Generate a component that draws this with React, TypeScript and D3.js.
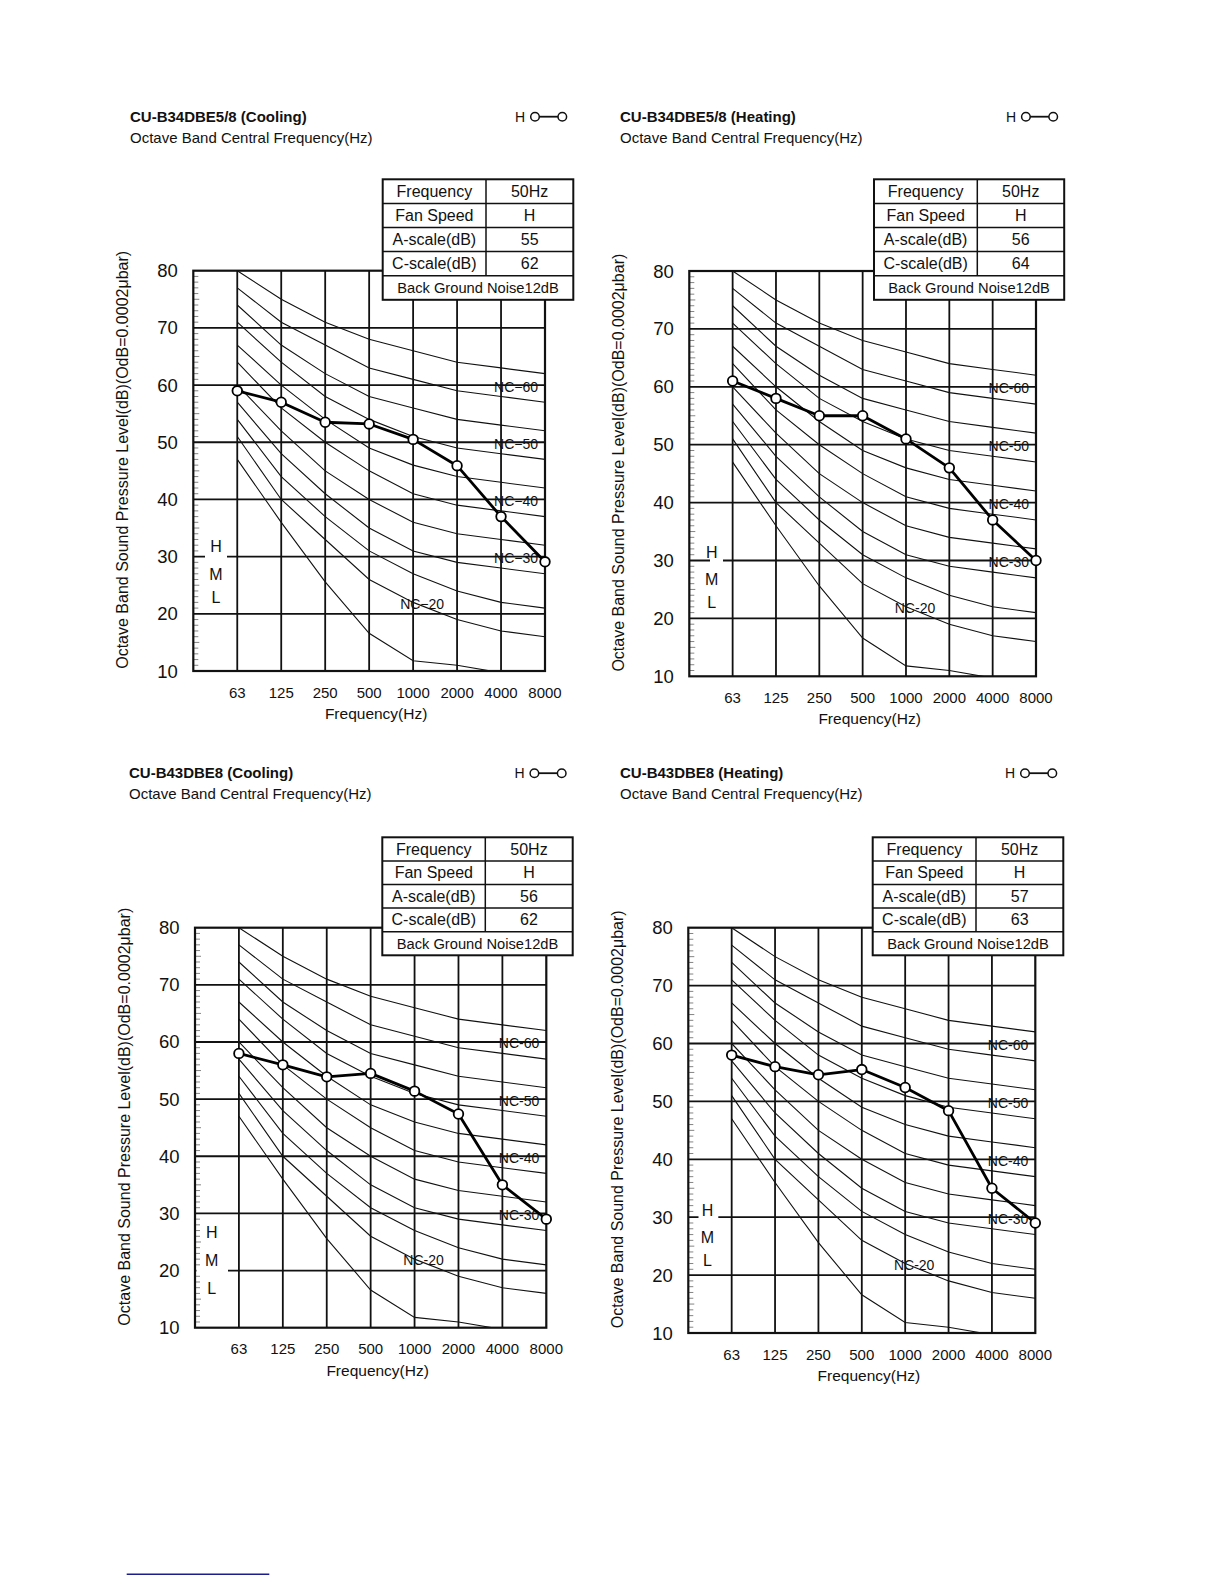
import React from "react";
import * as d3 from "d3";

// ---------- data ----------
const FREQS = ["63", "125", "250", "500", "1000", "2000", "4000", "8000"];
const Y_TICKS = [10, 20, 30, 40, 50, 60, 70, 80];

// NC reference curves (dB at each octave band)
const NC_15 = [47, 36, 25.6, 16.6, 11.8, 11, 9.7, 9];
const NC_20 = [51, 40, 33, 26, 22, 19, 17, 16];
const NC_25 = [54, 44, 37, 31, 27, 24, 22, 21];
const NC_30 = [57, 48, 41, 35, 31, 29, 28, 27];
const NC_35 = [60, 52, 45, 40, 36, 34, 33, 32];
const NC_40 = [64, 56, 50, 45, 41, 39, 38, 37];
const NC_45 = [67, 60, 54, 49, 46, 44, 43, 42];
const NC_50 = [71, 64, 58, 54, 51, 49, 48, 47];
const NC_55 = [74, 67, 62, 58, 56, 54, 53, 52];
const NC_60 = [77, 71, 67, 63, 61, 59, 58, 57];
const NC_65 = [80, 75, 71, 68, 66, 64, 63, 62];
const NC_CURVES = [NC_15, NC_20, NC_25, NC_30, NC_35, NC_40, NC_45, NC_50, NC_55, NC_60, NC_65];

const NC_RIGHT_LABELS = [60, 50, 40, 30];
const NC_LOW_LABEL = 20;

// measured SPL (H fan speed)
const SPL_B34_COOLING = [59.0, 57.0, 53.5, 53.2, 50.5, 45.9, 37.0, 29.1];
const SPL_B34_HEATING = [61.0, 58.0, 55.0, 55.0, 51.0, 46.0, 37.0, 30.0];
const SPL_B43_COOLING = [58.0, 56.0, 53.9, 54.5, 51.4, 47.4, 35.0, 29.0];
const SPL_B43_HEATING = [58.0, 56.0, 54.6, 55.5, 52.4, 48.4, 35.0, 29.0];

const TITLES = [
  "CU-B34DBE5/8 (Cooling)",
  "CU-B34DBE5/8 (Heating)",
  "CU-B43DBE8 (Cooling)",
  "CU-B43DBE8 (Heating)",
];
const SUBTITLE = "Octave Band Central Frequency(Hz)";
const TABLE_LABELS = ["Frequency", "Fan Speed", "A-scale(dB)", "C-scale(dB)"];
const TABLE_B34_COOLING = ["50Hz", "H", "55", "62"];
const TABLE_B34_HEATING = ["50Hz", "H", "56", "64"];
const TABLE_B43_COOLING = ["50Hz", "H", "56", "62"];
const TABLE_B43_HEATING = ["50Hz", "H", "57", "63"];
const BG_NOISE = "Back Ground Noise12dB";
const Y_LABEL = "Octave Band Sound Pressure Level(dB)(OdB=0.0002\u03bcbar)";
const X_LABEL = "Frequency(Hz)";
const HML = ["H", "M", "L"];

// ---------- layout ----------
const FONT = "'Liberation Sans', Arial, Helvetica, sans-serif";

type Layout = {
  titleX: number; titleY: number;
  left: number; right: number; top: number; bottom: number;
  tableX: number; tableY: number; tableW: number; tableC1: number; rowH: number;
  hmlX: number; hmlDb: number[]; gapDb: number; gapX0: number; gapX1: number;
  dash: string;
};

const LAYOUTS: Layout[] = [
  { titleX: 130, titleY: 121.5, left: 193.3, right: 545, top: 270.7, bottom: 671,
    tableX: 382.7, tableY: 179.3, tableW: 190.6, tableC1: 103.3, rowH: 24.1,
    hmlX: 216, hmlDb: [31.7, 26.9, 22.9], gapDb: 30, gapX0: 205, gapX1: 227, dash: "\u2212" },
  { titleX: 620, titleY: 121.5, left: 689.3, right: 1036, top: 271, bottom: 676.3,
    tableX: 874, tableY: 179.3, tableW: 190.2, tableC1: 103.3, rowH: 24.1,
    hmlX: 711.7, hmlDb: [31.3, 26.8, 22.8], gapDb: 30, gapX0: 710, gapX1: 723, dash: "-" },
  { titleX: 129, titleY: 778, left: 195, right: 546.3, top: 927.7, bottom: 1327.7,
    tableX: 382.3, tableY: 837.3, tableW: 190.4, tableC1: 103, rowH: 23.6,
    hmlX: 211.7, hmlDb: [26.7, 21.8, 16.9], gapDb: 20, gapX0: 196.5, gapX1: 228, dash: "-" },
  { titleX: 620, titleY: 778, left: 688.3, right: 1035.3, top: 927.7, bottom: 1333,
    tableX: 872.7, tableY: 837.3, tableW: 190.6, tableC1: 103.3, rowH: 23.6,
    hmlX: 707.5, hmlDb: [31.1, 26.5, 22.5], gapDb: 30, gapX0: 698.5, gapX1: 718.3, dash: "-" },
];

const SERIES = [SPL_B34_COOLING, SPL_B34_HEATING, SPL_B43_COOLING, SPL_B43_HEATING];
const TABLES = [TABLE_B34_COOLING, TABLE_B34_HEATING, TABLE_B43_COOLING, TABLE_B43_HEATING];

function Panel({ idx }: { idx: number }) {
  const L = LAYOUTS[idx];
  const values = SERIES[idx];
  const tvals = TABLES[idx];
  const x = d3.scaleLinear().domain([-1, FREQS.length - 1]).range([L.left, L.right]);
  const y = d3.scaleLinear().domain([10, 80]).range([L.bottom, L.top]);
  const line = d3.line<number>().x((_, i) => x(i)).y((d) => y(d));
  const clipId = `plotclip-${idx}`;
  const minor = d3.range(11, 80).filter((v) => v % 10 !== 0);
  const tableRight = L.tableX + L.tableW;
  const legendY = L.titleY - 4.8;

  return (
    <g fontFamily={FONT}>
      <defs>
        <clipPath id={clipId}>
          <rect x={L.left} y={L.top} width={L.right - L.left} height={L.bottom - L.top} />
        </clipPath>
      </defs>
      {/* titles */}
      <text x={L.titleX} y={L.titleY} fontSize={15} fontWeight="bold" fill="#111">{TITLES[idx]}</text>
      <text x={L.titleX} y={L.titleY + 21} fontSize={15} fill="#111">{SUBTITLE}</text>
      {/* legend */}
      <g>
        <text x={tableRight - 58.3} y={legendY} fontSize={14} dominantBaseline="central" fill="#111">H</text>
        <line x1={tableRight - 38.3} x2={tableRight - 11} y1={legendY} y2={legendY} stroke="#111" strokeWidth={1.8} />
        <circle cx={tableRight - 38.3} cy={legendY} r={4.3} fill="#fff" stroke="#111" strokeWidth={1.5} />
        <circle cx={tableRight - 11} cy={legendY} r={4.3} fill="#fff" stroke="#111" strokeWidth={1.5} />
      </g>
      {/* NC curves */}
      <g clipPath={`url(#${clipId})`}>
        {NC_CURVES.map((c, i) => (
          <path key={i} d={line(c) || ""} fill="none" stroke="#111" strokeWidth={1.1} />
        ))}
      </g>
      {/* grid */}
      {Y_TICKS.filter((v) => v > 10 && v < 80).map((v) => (
        <line key={"h" + v} x1={L.left} x2={L.right} y1={y(v)} y2={y(v)} stroke="#111" strokeWidth={1.8} />
      ))}
      {FREQS.slice(0, FREQS.length - 1).map((f, i) => (
        <line key={"v" + f} x1={x(i)} x2={x(i)} y1={L.top} y2={L.bottom} stroke="#111" strokeWidth={1.8} />
      ))}
      {/* minor ticks */}
      {minor.map((v) => (
        <line key={"m" + v} x1={L.left} x2={L.left + (v % 5 === 0 ? 6 : 5)} y1={y(v)} y2={y(v)} stroke="#777" strokeWidth={0.9} />
      ))}
      {/* frame */}
      <rect x={L.left} y={L.top} width={L.right - L.left} height={L.bottom - L.top} fill="none" stroke="#111" strokeWidth={2.2} />
      {/* HML labels with gap */}
      <rect x={L.gapX0} y={y(L.gapDb) - 2} width={L.gapX1 - L.gapX0} height={4} fill="#fff" />
      {HML.map((t, i) => (
        <text key={t} x={L.hmlX} y={y(L.hmlDb[i])} fontSize={16} textAnchor="middle" dominantBaseline="central" fill="#111">{t}</text>
      ))}
      {/* NC labels */}
      {NC_RIGHT_LABELS.map((v) => (
        <text key={"nc" + v} x={L.right - 7} y={y(v) + 1.5} fontSize={14} textAnchor="end" dominantBaseline="central" fill="#111">{`NC${L.dash}${v}`}</text>
      ))}
      <text x={x(4) + 9} y={y(21.8)} fontSize={14} textAnchor="middle" dominantBaseline="central" fill="#111">{`NC${L.dash}${NC_LOW_LABEL}`}</text>
      {/* measured series */}
      <path d={line(values) || ""} fill="none" stroke="#000" strokeWidth={2.8} strokeLinejoin="round" />
      {values.map((v, i) => (
        <circle key={"p" + i} cx={x(i)} cy={y(v)} r={4.8} fill="#fff" stroke="#000" strokeWidth={1.8} />
      ))}
      {/* y ticks */}
      {Y_TICKS.map((v) => (
        <text key={"yt" + v} x={L.left - 15.5} y={y(v)} fontSize={18.5} textAnchor="end" dominantBaseline="central" fill="#111">{v}</text>
      ))}
      {/* x ticks */}
      {FREQS.map((f, i) => (
        <text key={"xt" + f} x={x(i)} y={L.bottom + 26.5} fontSize={15} textAnchor="middle" fill="#111">{f}</text>
      ))}
      <text x={(L.left + L.right) / 2 + 7} y={L.bottom + 48} fontSize={15.5} textAnchor="middle" fill="#111">{X_LABEL}</text>
      <text
        transform={`translate(${L.left - 71},${(L.top + L.bottom) / 2 - 11}) rotate(-90)`}
        fontSize={16}
        textAnchor="middle"
        dominantBaseline="central"
        fill="#111"
      >
        {Y_LABEL}
      </text>
      {/* info table */}
      <g>
        <rect x={L.tableX} y={L.tableY} width={L.tableW} height={L.rowH * 5} fill="#fff" stroke="none" />
        {d3.range(1, 5).map((r) => (
          <line key={"tr" + r} x1={L.tableX} x2={tableRight} y1={L.tableY + r * L.rowH} y2={L.tableY + r * L.rowH} stroke="#111" strokeWidth={1.5} />
        ))}
        <line x1={L.tableX + L.tableC1} x2={L.tableX + L.tableC1} y1={L.tableY} y2={L.tableY + 4 * L.rowH} stroke="#111" strokeWidth={1.5} />
        <rect x={L.tableX} y={L.tableY} width={L.tableW} height={L.rowH * 5} fill="none" stroke="#111" strokeWidth={2} />
        {TABLE_LABELS.map((t, r) => (
          <g key={"tl" + r}>
            <text x={L.tableX + L.tableC1 / 2} y={L.tableY + (r + 0.5) * L.rowH} fontSize={16} textAnchor="middle" dominantBaseline="central" fill="#111">{t}</text>
            <text x={L.tableX + L.tableC1 + (L.tableW - L.tableC1) / 2} y={L.tableY + (r + 0.5) * L.rowH} fontSize={16} textAnchor="middle" dominantBaseline="central" fill="#111">{tvals[r]}</text>
          </g>
        ))}
        <text x={L.tableX + L.tableW / 2} y={L.tableY + 4.5 * L.rowH} fontSize={14.7} textAnchor="middle" dominantBaseline="central" fill="#111">{BG_NOISE}</text>
      </g>
    </g>
  );
}

export default function App() {
  return (
    <div style={{ position: "absolute", left: 0, top: 0, width: 1224, height: 1584, background: "#fff" }}>
      <svg width={1224} height={1584} viewBox="0 0 1224 1584" style={{ display: "block" }}>
        <rect x={0} y={0} width={1224} height={1584} fill="#fff" />
        {LAYOUTS.map((_, i) => (
          <Panel key={i} idx={i} />
        ))}
        <line x1={126.7} x2={269.3} y1={1574.3} y2={1574.3} stroke="#1c1c8c" strokeWidth={1.4} />
      </svg>
    </div>
  );
}
